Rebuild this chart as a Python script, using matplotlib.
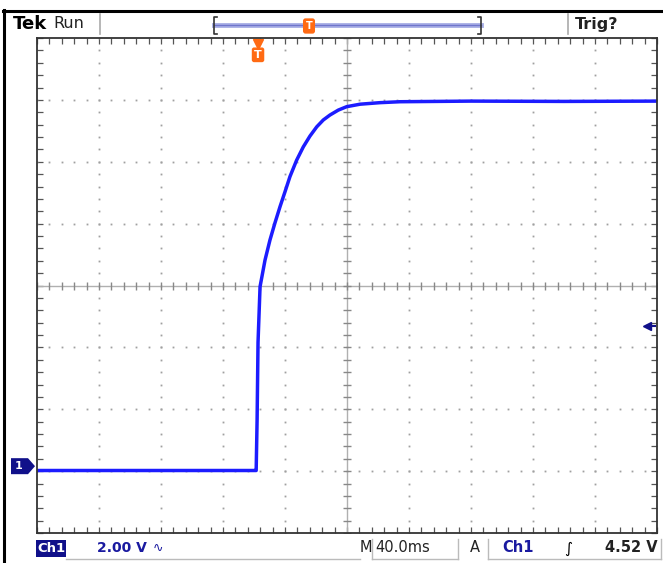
import matplotlib.pyplot as plt
import matplotlib.transforms as mtransforms
from matplotlib.patches import Polygon, Rectangle
import numpy as np

# -------------------------------------------------
# Trace data
# -------------------------------------------------

TIME_MS = [-200, -120, -60, -58.6, -58.0, -57.4, -56.1, -52.9, -49.7, -46.5,
           -43.2, -40.0, -36.8, -32.5, -28.2, -23.9, -19.5, -15.3, -11.0,
           -5.6, -0.2, 8.4, 21.3, 34.2, 80, 140, 200]
VOLTS = [-0.14, -0.14, -0.14, -0.14, 1.5, 4.0, 5.80, 6.66, 7.31, 7.86,
         8.39, 8.87, 9.36, 9.89, 10.32, 10.67, 10.97, 11.19, 11.35,
         11.51, 11.62, 11.70, 11.75, 11.78, 11.80, 11.79, 11.80]

TRIGGER_TIME = -57.4
TRIGGER_LEVEL = 4.52
VOLTS_PER_DIV = 2.0
MS_PER_DIV = 40.0
GROUND_DIV = -2.92  # ground marker position, divisions from centre

top_text = ["Tek", "Run", "Trig?"]
bottom_text = ["Ch1", "2.00 V", "M", "40.0ms", "A", "Ch1", "4.52 V"]

# -------------------------------------------------
# Figure / graticule
# -------------------------------------------------

W, H = 663, 563
fig = plt.figure(figsize=(W / 100, H / 100), dpi=100)


def px(x, y):
    return x / W, 1 - y / H


left, right, top, bottom = 37, 657, 38, 533
ax = fig.add_axes([left / W, 1 - bottom / H, (right - left) / W, (bottom - top) / H])

y_lo = (-4 - GROUND_DIV) * VOLTS_PER_DIV
y_hi = (4 - GROUND_DIV) * VOLTS_PER_DIV
y_mid = (y_lo + y_hi) / 2
ax.set_xlim(-5 * MS_PER_DIV, 5 * MS_PER_DIV)
ax.set_ylim(y_lo, y_hi)

grey = "#a0a0a0"
minor_x = np.arange(-5 * MS_PER_DIV, 5 * MS_PER_DIV + 0.1, MS_PER_DIV / 5)
minor_y = np.arange(y_lo, y_hi + 0.01, VOLTS_PER_DIV / 5)

# dotted division lines
for k in range(-4, 5):
    if k == 0:
        continue
    xv = k * MS_PER_DIV
    ax.plot([xv] * len(minor_y), minor_y, ls="none", marker="s", ms=1.3,
            color=grey, mec="none")
for k in range(-3, 4):
    if k == 0:
        continue
    yv = y_mid + k * VOLTS_PER_DIV
    ax.plot(minor_x, [yv] * len(minor_x), ls="none", marker="s", ms=1.3,
            color=grey, mec="none")

# centre cross with tick marks
ax.axhline(y_mid, color="#b0b0b0", lw=1)
ax.axvline(0, color="#b0b0b0", lw=1)
ax.plot(minor_x, [y_mid] * len(minor_x), ls="none", marker="|", ms=6,
        color="#888888", mew=1)
ax.plot([0] * len(minor_y), minor_y, ls="none", marker="_", ms=6,
        color="#888888", mew=1)

ax.set_xticks(minor_x)
ax.set_yticks(minor_y)
ax.tick_params(direction="in", length=4, width=0.9, color="#555555",
               top=True, right=True, labelbottom=False, labelleft=False)
for s in ax.spines.values():
    s.set_linewidth(1.3)
    s.set_color("#333333")

# trace
ax.plot(TIME_MS, VOLTS, color="#1c1cff", lw=2.5, solid_joinstyle="round")

# trigger position marker (top of graticule)
trans_xa = mtransforms.blended_transform_factory(ax.transData, ax.transAxes)
ax.plot([TRIGGER_TIME], [0.988], marker="v", ms=7, color="#ff6a13",
        transform=trans_xa, clip_on=False)
ax.text(TRIGGER_TIME, 0.966, "T", transform=trans_xa, ha="center", va="center",
        color="white", fontsize=8, fontweight="bold",
        bbox=dict(boxstyle="round,pad=0.15", fc="#ff6a13", ec="#ff6a13"))

# trigger level arrow (right side)
trans_ay = mtransforms.blended_transform_factory(ax.transAxes, ax.transData)
ax.plot([0.984], [TRIGGER_LEVEL], marker="<", ms=6, color="#10108a",
        transform=trans_ay, clip_on=False)
ax.plot([0.984, 0.997], [TRIGGER_LEVEL] * 2, color="#10108a", lw=1.5,
        transform=trans_ay, clip_on=False)

# ground marker (left)
gy = ax.transData.transform((0, 0.0))[1]
gy_px = H - gy
fig.add_artist(Polygon([px(11, gy_px - 8), px(28, gy_px - 8), px(35, gy_px),
                        px(28, gy_px + 8), px(11, gy_px + 8)],
                       closed=True, fc="#10108a", ec="none",
                       transform=fig.transFigure))
fig.text(*px(19, gy_px), "1", color="white", fontsize=8, fontweight="bold",
         ha="center", va="center")

# -------------------------------------------------
# Screen frame and status lines
# -------------------------------------------------

fig.add_artist(plt.Line2D([px(3, 0)[0], 1], [px(0, 10.5)[1]] * 2,
                          color="black", lw=2.2))
fig.add_artist(plt.Line2D([px(4, 0)[0]] * 2, [px(0, 10)[1], 0],
                          color="black", lw=2.2))

for xs in (100, 568):
    fig.add_artist(plt.Line2D([px(xs, 0)[0]] * 2, [px(0, 14)[1], px(0, 34)[1]],
                              color="#aaaaaa", lw=1.2))

fig.text(*px(13, 24), top_text[0], fontsize=13, fontweight="bold",
         ha="left", va="center", color="black")
fig.text(*px(53, 24), top_text[1], fontsize=11.5, fontweight="medium",
         ha="left", va="center", color="#222222")
fig.text(*px(575, 24), top_text[2], fontsize=11.5, fontweight="bold",
         ha="left", va="center", color="#222222")

# record view bar
fig.add_artist(plt.Line2D([px(214, 0)[0], px(481, 0)[0]], [px(0, 25)[1]] * 2,
                          color="#aab0e6", lw=3.5))
fig.add_artist(plt.Line2D([px(214, 0)[0], px(481, 0)[0]], [px(0, 25)[1]] * 2,
                          color="#7076cc", lw=1))
for xb, d in ((214, 3), (481, -3)):
    fig.add_artist(plt.Line2D([px(xb + d, 0)[0], px(xb, 0)[0], px(xb, 0)[0], px(xb + d, 0)[0]],
                              [px(0, 17)[1], px(0, 17)[1], px(0, 34)[1], px(0, 34)[1]],
                              color="#333333", lw=1.2))
fig.text(*px(309, 26), "T", fontsize=7, fontweight="bold", color="white",
         ha="center", va="center",
         bbox=dict(boxstyle="round,pad=0.2", fc="#ff6a13", ec="#ff6a13"))

# bottom status line
fig.add_artist(Rectangle(px(36, 557), 30 / W, 17 / H, fc="#10108a", ec="none",
                         transform=fig.transFigure))
fig.text(*px(51, 548), bottom_text[0], fontsize=9.5, fontweight="bold",
         color="white", ha="center", va="center")
fig.text(*px(97, 548), bottom_text[1], fontsize=10, fontweight="bold",
         color="#1a1aa0", ha="left", va="center")
fig.text(*px(158, 548), "\u223f", fontsize=9, color="#1a1aa0",
         ha="center", va="center")
fig.text(*px(360, 548), bottom_text[2], fontsize=10.5, color="#222222",
         ha="left", va="center")
fig.text(*px(375, 548), bottom_text[3], fontsize=10.5, color="#222222",
         ha="left", va="center")
fig.text(*px(470, 548), bottom_text[4], fontsize=10.5, color="#222222",
         ha="left", va="center")
fig.text(*px(502, 548), bottom_text[5], fontsize=10.5, fontweight="bold",
         color="#1a1aa0", ha="left", va="center")
fig.text(*px(568, 548), "\u222b", fontsize=11, color="black",
         ha="center", va="center")
fig.text(*px(658, 548), bottom_text[6], fontsize=10.5, fontweight="bold",
         color="#222222", ha="right", va="center")

box_col = "#bbbbbb"
for (x0, x1) in ((66, 360), (372, 458), (488, 661)):
    fig.add_artist(plt.Line2D([px(x0, 0)[0], px(x1, 0)[0]], [px(0, 559)[1]] * 2,
                              color=box_col, lw=1))
for xs in (372, 458, 488, 661):
    fig.add_artist(plt.Line2D([px(xs, 0)[0]] * 2, [px(0, 539)[1], px(0, 559)[1]],
                              color=box_col, lw=1))

fig.savefig("out.png", dpi=100)
